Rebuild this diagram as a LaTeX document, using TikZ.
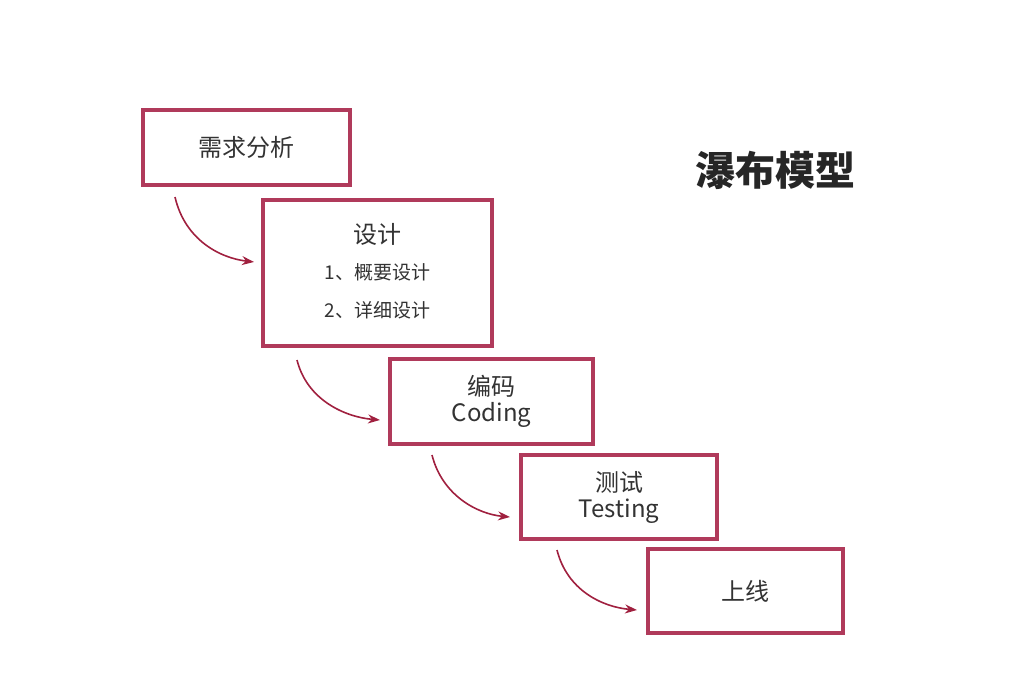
\documentclass[tikz,border=0pt]{standalone}
\usepackage{fontspec}
\setmainfont{Noto Sans CJK SC}
\usetikzlibrary{arrows.meta}
\definecolor{wine}{HTML}{B03A5B}
\definecolor{arrowc}{HTML}{A0203F}
\tikzset{
  x=1pt,y=-1pt,
  stage/.style={draw=wine,line width=4pt,fill=white,inner sep=0pt,text=black!80,font=\fontsize{24}{30}\selectfont,align=center},
  flow/.style={draw=arrowc,line width=1.6pt,-{Stealth[length=12pt,width=9pt]}}
}
\begin{document}
\begin{tikzpicture}
\useasboundingbox (0,0) rectangle (1022,687);
\node[stage,minimum width=207pt,minimum height=75pt] (s1) at (246.5,147.5) {需求分析};
\node[stage,minimum width=229pt,minimum height=146pt] (s2) at (377.5,273) {};
\node[text=black!80,font=\fontsize{24}{30}\selectfont] (s2t) at (377.5,234) {设计};
\node[text=black!80,font=\fontsize{19}{24}\selectfont] (s2a) at (377.5,272) {1、概要设计};
\node[text=black!80,font=\fontsize{19}{24}\selectfont] (s2b) at (377.5,310) {2、详细设计};
\node[stage,minimum width=203pt,minimum height=85pt] (s3) at (491.5,401.5) {编码\\[-4pt]Coding};
\node[stage,minimum width=196pt,minimum height=84pt] (s4) at (619,497) {测试\\[-4pt]Testing};
\node[stage,minimum width=195pt,minimum height=84pt] (s5) at (745.5,591) {上线};
\node[font=\fontsize{40}{48}\selectfont\bfseries,text=black!85] (title) at (775,170) {瀑布模型};
\coordinate (a1) at (175,197); \coordinate (b1) at (254,262);
\coordinate (a2) at (297,360); \coordinate (b2) at (380,420);
\coordinate (a3) at (432,455); \coordinate (b3) at (510,517);
\coordinate (a4) at (557,550); \coordinate (b4) at (637,610);
\draw[flow] (a1) .. controls (185,240) and (220,258) .. (b1);
\draw[flow] (a2) .. controls (307,400) and (345,417) .. (b2);
\draw[flow] (a3) .. controls (442,495) and (477,514) .. (b3);
\draw[flow] (a4) .. controls (567,590) and (602,607) .. (b4);
\end{tikzpicture}
\end{document}
